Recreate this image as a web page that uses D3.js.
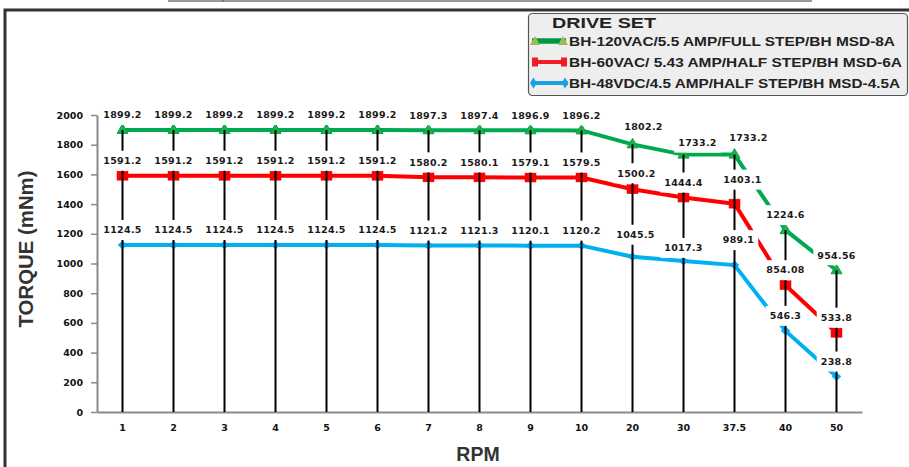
<!DOCTYPE html>
<html>
<head>
<meta charset="utf-8">
<script src="https://cdn.jsdelivr.net/npm/d3@7"></script>
<style>
  html, body { margin: 0; padding: 0; background: #ffffff; }
  svg { display: block; }
</style>
</head>
<body>
<div id="chart"></div>
<script>
// ---------------- DATA ----------------
const categories = ["1","2","3","4","5","6","7","8","9","10","20","30","37.5","40","50"];
const greenValues = [1899.2,1899.2,1899.2,1899.2,1899.2,1899.2,1897.3,1897.4,1896.9,1896.2,1802.2,1733.2,1733.2,1224.6,954.56];
const redValues   = [1591.2,1591.2,1591.2,1591.2,1591.2,1591.2,1580.2,1580.1,1579.1,1579.5,1500.2,1444.4,1403.1,854.08,533.8];
const blueValues  = [1124.5,1124.5,1124.5,1124.5,1124.5,1124.5,1121.2,1121.3,1120.1,1120.2,1045.5,1017.3,989.1,546.3,238.8];
const seriesNames = [
  "BH-120VAC/5.5 AMP/FULL STEP/BH MSD-8A",
  "BH-60VAC/ 5.43 AMP/HALF STEP/BH MSD-6A",
  "BH-48VDC/4.5 AMP/HALF STEP/BH MSD-4.5A"
];
const yTicks = [0,200,400,600,800,1000,1200,1400,1600,1800,2000];
const legendTitle = "DRIVE SET";
const xTitle = "RPM";
const yTitle = "TORQUE (mNm)";

// label nudges (style only): [seriesIndex, category] -> [dx, dy]
const labelNudges = {
  "0|20": [11, -18], "0|30": [14, -12], "0|37.5": [14, -17],
  "1|20": [4, -16], "1|37.5": [8, -24],
  "2|20": [3, -22], "2|30": [0, -13], "2|37.5": [4, -25]
};

// ---------------- LAYOUT ----------------
const W = 909, H = 467;
const svg = d3.select("#chart").append("svg").attr("width", W).attr("height", H);
svg.append("rect").attr("width", W).attr("height", H).attr("fill", "#ffffff");

// top strip remnants and frame
svg.append("rect").attr("x", 168).attr("y", 0).attr("width", 644).attr("height", 2).attr("fill", "#9a9a9a");
svg.append("line").attr("x1", 223).attr("x2", 223).attr("y1", 0).attr("y2", 2).attr("stroke", "#555").attr("stroke-width", 1);
svg.append("path").attr("d", `M5,${H} V10 H${W}`).attr("fill", "none").attr("stroke", "#333").attr("stroke-width", 3);

const x = d3.scaleBand().domain(categories).range([97, 862]).padding(0);
const y = d3.scaleLinear().domain([0, 2000]).range([412, 115]);
const cx = c => x(c) + x.bandwidth() / 2;

const tickFont = "'DejaVu Sans', Verdana, sans-serif";

// Y axis
const yAxis = svg.append("g").attr("transform", "translate(97,0)")
  .call(d3.axisLeft(y).tickValues(yTicks).tickFormat(d3.format("d"))
    .tickSize(6).tickSizeOuter(0).tickPadding(8));
yAxis.select(".domain").attr("stroke", "#8a8a8a").attr("stroke-width", 2);
yAxis.selectAll(".tick line").attr("stroke", "#8a8a8a").attr("stroke-width", 1.5);
yAxis.selectAll("text").attr("font-family", tickFont).attr("font-weight", "bold")
  .attr("font-size", 9.5).attr("fill", "#111");

// X axis
const xAxis = svg.append("g").attr("transform", "translate(0,412)")
  .call(d3.axisBottom(x).tickSize(0).tickSizeOuter(0).tickPadding(0));
xAxis.select(".domain").attr("stroke", "#8a8a8a").attr("stroke-width", 2);
xAxis.selectAll("text").attr("y", 16).attr("dy", "0.35em")
  .attr("font-family", tickFont).attr("font-weight", "bold")
  .attr("font-size", 9.5).attr("fill", "#111");

// Series
const series = [
  { values: greenValues, line: "#00a84f", marker: "triangle", mfill: "#1fb04a", mstroke: "#00a84f" },
  { values: redValues,   line: "#ff0000", marker: "square",   mfill: "#ff0000", mstroke: "#ee0000" },
  { values: blueValues,  line: "#00b0f0", marker: "diamond",  mfill: "#00b0f0", mstroke: "#00a0e0" }
];

const lineGen = d3.line().x((d, i) => cx(categories[i])).y(d => y(d));
const plot = svg.append("g");

series.forEach(s => {
  plot.append("path").attr("d", lineGen(s.values)).attr("fill", "none")
    .attr("stroke", s.line).attr("stroke-width", 4).attr("stroke-linejoin", "round");
});

function drawMarker(g, type, px, py, fill, stroke) {
  if (type === "triangle") {
    g.append("path").attr("d", `M${px},${py - 6} L${px + 5.5},${py + 3.5} L${px - 5.5},${py + 3.5} Z`)
      .attr("fill", fill).attr("stroke", stroke).attr("stroke-width", 1);
  } else if (type === "square") {
    g.append("rect").attr("x", px - 5.5).attr("y", py - 4.5).attr("width", 11).attr("height", 9)
      .attr("fill", fill).attr("stroke", stroke).attr("stroke-width", 0.5);
  } else {
    g.append("path").attr("d", `M${px},${py - 4} L${px + 4.5},${py} L${px},${py + 4} L${px - 4.5},${py} Z`)
      .attr("fill", fill).attr("stroke", stroke).attr("stroke-width", 0.5);
  }
}

series.forEach(s => {
  s.values.forEach((v, i) => drawMarker(plot, s.marker, cx(categories[i]), y(v), s.mfill, s.mstroke));
});

// Drop lines from highest point to axis
categories.forEach((c, i) => {
  const top = d3.max(series, s => s.values[i]);
  plot.append("line").attr("x1", cx(c)).attr("x2", cx(c))
    .attr("y1", y(top)).attr("y2", y(0))
    .attr("stroke", "#000").attr("stroke-width", 2);
});

// Data labels with white backgrounds
const labelG = svg.append("g");
series.forEach((s, si) => {
  s.values.forEach((v, i) => {
    const c = categories[i];
    const nudge = labelNudges[si + "|" + c] || [0, -15];
    const lx = cx(c) + nudge[0], ly = y(v) + nudge[1];
    const g = labelG.append("g");
    const bg = g.append("rect").attr("fill", "#ffffff");
    const t = g.append("text").attr("x", lx).attr("y", ly).attr("dy", "0.35em")
      .attr("text-anchor", "middle").attr("font-family", tickFont).attr("font-weight", "bold")
      .attr("font-size", 9.5).attr("letter-spacing", 0.3).attr("fill", "#1a1a1a").text(String(v));
    const bb = t.node().getBBox();
    bg.attr("x", bb.x - 4).attr("y", ly - 10).attr("width", bb.width + 8).attr("height", 20);
  });
});

// Axis titles
svg.append("text").attr("transform", "translate(33,249) rotate(-90)")
  .attr("text-anchor", "middle").attr("font-family", "'Liberation Sans', Arial, sans-serif")
  .attr("font-weight", "bold").attr("font-size", 20).attr("fill", "#333")
  .attr("textLength", 157).attr("lengthAdjust", "spacingAndGlyphs").text(yTitle);
svg.append("text").attr("x", 478).attr("y", 460.5)
  .attr("text-anchor", "middle").attr("font-family", "'Liberation Sans', Arial, sans-serif")
  .attr("font-weight", "bold").attr("font-size", 19.5).attr("fill", "#333").text(xTitle);

// Legend
const lg = svg.append("g");
lg.append("rect").attr("x", 528.5).attr("y", 13.5).attr("width", 379).attr("height", 82).attr("rx", 4)
  .attr("fill", "#eeeeee").attr("stroke", "#555").attr("stroke-width", 1.2);
lg.append("text").attr("x", 552).attr("y", 28).attr("font-family", "'Liberation Sans', Arial, sans-serif")
  .attr("font-weight", "bold").attr("font-size", 15).attr("fill", "#222")
  .attr("textLength", 104).attr("lengthAdjust", "spacingAndGlyphs").text(legendTitle);

const legendRows = [
  { cy: 41, textW: 326 }, { cy: 62, textW: 333 }, { cy: 83, textW: 331 }
];
// row 1 symbol
lg.append("line").attr("x1", 532).attr("x2", 566).attr("y1", 41).attr("y2", 41).attr("stroke", "#00973f").attr("stroke-width", 5.5);
[535, 563].forEach(px => lg.append("path").attr("d", `M${px},36 L${px + 5},45 L${px - 5},45 Z`).attr("fill", "#9bbb59"));
// row 2 symbol
lg.append("line").attr("x1", 533).attr("x2", 566).attr("y1", 62).attr("y2", 62).attr("stroke", "#ee1c25").attr("stroke-width", 4);
[535, 564].forEach(px => lg.append("rect").attr("x", px - 3).attr("y", 57.5).attr("width", 6).attr("height", 9).attr("fill", "#ee1c25"));
// row 3 symbol
lg.append("line").attr("x1", 531).attr("x2", 568).attr("y1", 83).attr("y2", 83).attr("stroke", "#1ba1e2").attr("stroke-width", 4);
[533.5, 565].forEach(px => lg.append("path").attr("d", `M${px},77.5 L${px + 3.5},83 L${px},88.5 L${px - 3.5},83 Z`).attr("fill", "#1ba1e2"));

legendRows.forEach((r, i) => {
  lg.append("text").attr("x", 569).attr("y", r.cy).attr("dy", "0.36em")
    .attr("font-family", "'Liberation Sans', Arial, sans-serif").attr("font-weight", "bold")
    .attr("font-size", 13.5).attr("fill", "#222")
    .attr("textLength", r.textW).attr("lengthAdjust", "spacingAndGlyphs").text(seriesNames[i]);
});
</script>
</body>
</html>
